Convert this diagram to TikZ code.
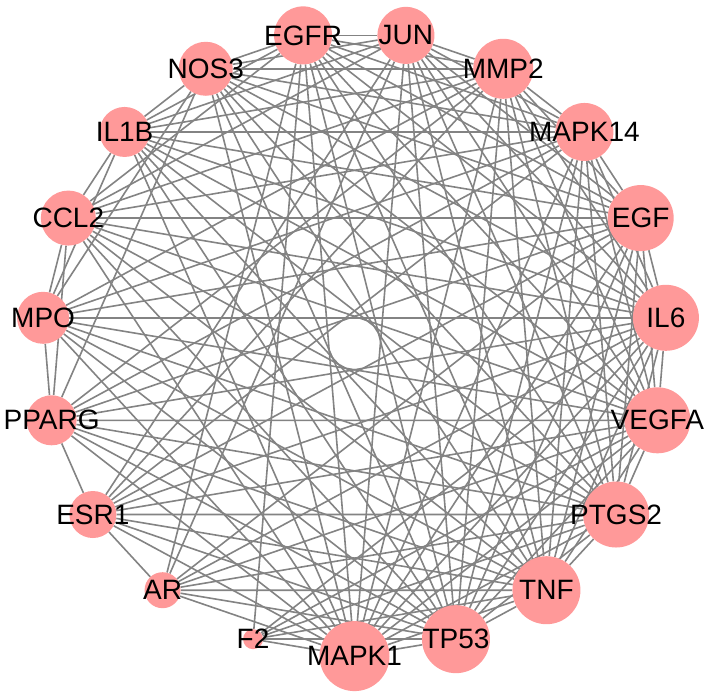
\documentclass[tikz,border=0pt]{standalone}
\usepackage{fontspec}
\setmainfont{Liberation Sans}
\usepackage{xcolor}
\usepackage{tikz}
\definecolor{genefill}{HTML}{FF9999}
\definecolor{edgegray}{HTML}{838383}
\pgfdeclarelayer{background}
\pgfsetlayers{background,main}
\tikzset{
  gene/.style={circle, fill=genefill, draw=none, inner sep=0pt, minimum size=#1},
  lbl/.style={text=black, font=\fontsize{28}{28}\selectfont, inner sep=0pt},
  link/.style={draw=edgegray, line width=1.6pt}
}

\begin{document}
\begin{tikzpicture}
    \useasboundingbox (-354.5pt,-352.4pt) rectangle (353.5pt,343.6pt);

    % --- NODES (clockwise from JUN) ---
    \foreach \name/\d [count=\k from 0] in {JUN/57, MMP2/60, MAPK14/58, EGF/66, IL6/66,
        VEGFA/66, PTGS2/66, TNF/68, TP53/68, MAPK1/70, F2/20, AR/36, ESR1/47,
        PPARG/50, MPO/52, CCL2/55, IL1B/50, NOS3/54, EGFR/58}
    {
        \node[gene=\d pt, label={[lbl]center:\name}] (\name)
            at ({90-180/19-\k*360/19}:312.5pt) {};
    }

    % --- EDGES ---
    \begin{pgfonlayer}{background}
        % hubs among themselves
        \foreach \s/\tl in {IL6/{VEGFA,PTGS2,TNF,TP53,MAPK1}, VEGFA/{PTGS2,TNF,TP53,MAPK1},
            PTGS2/{TNF,TP53,MAPK1}, TNF/{TP53,MAPK1}, TP53/{MAPK1}}
            \foreach \t in \tl
                \draw[link] (\s) -- (\t);

        % hubs to all other genes
        \foreach \s in {IL6,VEGFA,PTGS2,TNF,TP53,MAPK1}
            \foreach \t in {F2,AR,ESR1,PPARG,MPO,CCL2,IL1B,NOS3,EGFR,JUN,MMP2,MAPK14,EGF}
                \draw[link] (\s) -- (\t);

        % the rest
        \foreach \s/\tl in {F2/{EGFR}, AR/{ESR1,EGFR,JUN,EGF},
            ESR1/{PPARG,EGF,JUN,MAPK14,MMP2},
            EGF/{MAPK14,MMP2,JUN,EGFR,NOS3,CCL2,IL1B,MPO,PPARG},
            MAPK14/{MMP2,JUN,EGFR,NOS3,CCL2,IL1B,MPO,PPARG},
            MMP2/{JUN,EGFR,NOS3,CCL2,IL1B,MPO,PPARG},
            JUN/{EGFR,NOS3,CCL2,IL1B}, EGFR/{NOS3,CCL2,IL1B},
            NOS3/{IL1B,MPO,PPARG}, CCL2/{IL1B,MPO,PPARG},
            IL1B/{MPO}, MPO/{PPARG}}
            \foreach \t in \tl
                \draw[link] (\s) -- (\t);
    \end{pgfonlayer}
\end{tikzpicture}
\end{document}
